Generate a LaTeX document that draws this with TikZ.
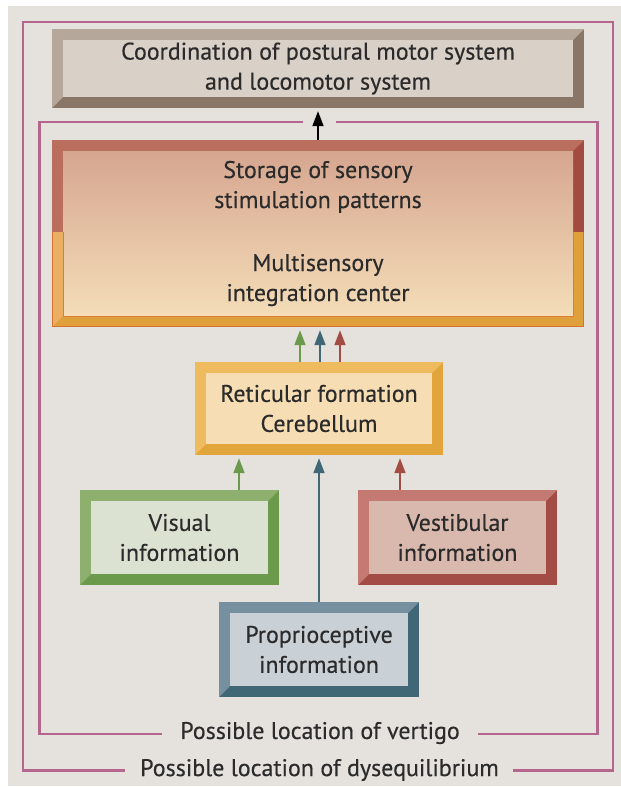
\documentclass[tikz,border=0pt]{standalone}
\usepackage{fontspec}
\setmainfont{PT Sans}[FakeBold=0.35]
\usetikzlibrary{arrows.meta}
\definecolor{bgc}{HTML}{E5E2DD}
\definecolor{frm}{HTML}{B4668F}
\definecolor{txt}{HTML}{2B2B2B}
\definecolor{coL}{HTML}{B6A79B}
\definecolor{coD}{HTML}{8A7667}
\definecolor{coF}{HTML}{D9D0C8}
\definecolor{stRL}{HTML}{B96E5E}
\definecolor{stRD}{HTML}{A34B3F}
\definecolor{stOL}{HTML}{EBAF64}
\definecolor{stOD}{HTML}{DFA03C}
\definecolor{stEdge}{HTML}{D8702E}
\definecolor{stTop}{HTML}{D6A690}
\definecolor{stBot}{HTML}{F4DDB8}
\definecolor{reL}{HTML}{EEBC5E}
\definecolor{reD}{HTML}{E2A53C}
\definecolor{reF}{HTML}{F6DDB3}
\definecolor{viL}{HTML}{8DB06E}
\definecolor{viD}{HTML}{6B9A4C}
\definecolor{viF}{HTML}{DCE2D2}
\definecolor{veL}{HTML}{C47A72}
\definecolor{veD}{HTML}{A34C45}
\definecolor{veF}{HTML}{D9B9AD}
\definecolor{prL}{HTML}{7690A0}
\definecolor{prD}{HTML}{3F6775}
\definecolor{prF}{HTML}{CAD1D6}
\def\bw{11}
\tikzset{
  boxtext/.style={inner sep=0pt, align=center, text=txt, font=\fontsize{24}{30}\selectfont},
  lbl/.style={inner sep=0pt, text=txt, font=\fontsize{24}{30}\selectfont},
  arr/.style={line width=1.8pt, -{Triangle[width=11pt,length=15pt]}, shorten >=3pt},
  frame/.style={draw=frm, line width=2.7pt}
}
\newcommand\bevelbox[9]{%
  \fill[#7] (#2,#3) rectangle (#4,#5);
  \fill[#6] (#2,#3) -- (#4,#3) -- (#4-\bw,#3+\bw) -- (#2+\bw,#3+\bw) -- (#2+\bw,#5-\bw) -- (#2,#5) -- cycle;
  \fill[#8] (#2+\bw,#3+\bw) rectangle (#4-\bw,#5-\bw);
  \node[boxtext, minimum width={(#4-#2)*1pt}, minimum height={(#5-#3)*1pt}] (#1) at ({(#2+#4)/2},{(#3+#5)/2}) {#9};
}
\begin{document}
\begin{tikzpicture}[x=1pt,y=-1pt]
\useasboundingbox (0,0) rectangle (621,787);
\fill[white] (0,0) rectangle (621,787);
\fill[bgc] (8,6) rectangle (621,786);
% frames
\draw[frame] (125,770.5) -- (23,770.5) -- (23,22) -- (613,22) -- (613,770.5) -- (513,770.5);
\draw[frame] (303,122) -- (39.5,122) -- (39.5,734) -- (162,734);
\draw[frame] (478,734) -- (597.5,734) -- (597.5,122) -- (336,122);
% coordination
\bevelbox{coord}{52}{29}{584}{108}{coL}{coD}{coF}{\fontsize{24}{27}\selectfont Coordination of postural motor system\\\fontsize{24}{27}\selectfont and locomotor system}
% storage (two-tone frame)
\begin{scope}
  \clip (52,140) rectangle (584,232);
  \fill[stRD] (52,140) rectangle (584,327);
  \fill[stRL] (52,140) -- (584,140) -- (573,151) -- (63,151) -- (63,316) -- (52,327) -- cycle;
\end{scope}
\begin{scope}
  \clip (52,232) rectangle (584,327);
  \fill[stOD] (52,140) rectangle (584,327);
  \fill[stOL] (52,140) -- (584,140) -- (573,151) -- (63,151) -- (63,316) -- (52,327) -- cycle;
  \draw[stEdge, line width=1pt] (52.5,232) -- (52.5,326.5) -- (583.5,326.5) -- (583.5,232);
\end{scope}
\shade[top color=stTop, bottom color=stBot] (63,151) rectangle (573,316);
\draw[stEdge!70!stOD, line width=0.8pt] (63,232) -- (63,316) -- (573,316) -- (573,232);
\node[boxtext, minimum width=532pt, minimum height=187pt] (sto) at (318,233.5)
  {Storage of sensory\\stimulation patterns\\[33pt]Multisensory\\integration center};
% reticular
\bevelbox{ret}{195}{362}{443}{455}{reL}{reD}{reF}{Reticular formation\\Cerebellum}
% inputs
\bevelbox{vis}{80}{490}{279}{585}{viL}{viD}{viF}{Visual\\information}
\bevelbox{ves}{358}{490}{557}{585}{veL}{veD}{veF}{Vestibular\\information}
\bevelbox{pro}{219}{602}{419}{697}{prL}{prD}{prF}{Proprioceptive\\information}
% arrows
\draw[arr, black] (sto.north) -- (coord.south);
\draw[arr, viD] ([xshift=-19pt]ret.north) -- ([xshift=-18pt]sto.south);
\draw[arr, prD] ([xshift=1pt]ret.north) -- ([xshift=2pt]sto.south);
\draw[arr, veD] ([xshift=21pt]ret.north) -- ([xshift=22pt]sto.south);
\draw[arr, viD] ([xshift=59.5pt]vis.north) -- ([xshift=-80pt]ret.south);
\draw[arr, veD] ([xshift=-57.5pt]ves.north) -- ([xshift=81pt]ret.south);
\draw[arr, prD] (pro.north) -- (ret.south);
% labels
\node[lbl] (vert) at (320,733) {Possible location of vertigo};
\node[lbl] (dys) at (319.5,770) {Possible location of dysequilibrium};
\end{tikzpicture}
\end{document}
